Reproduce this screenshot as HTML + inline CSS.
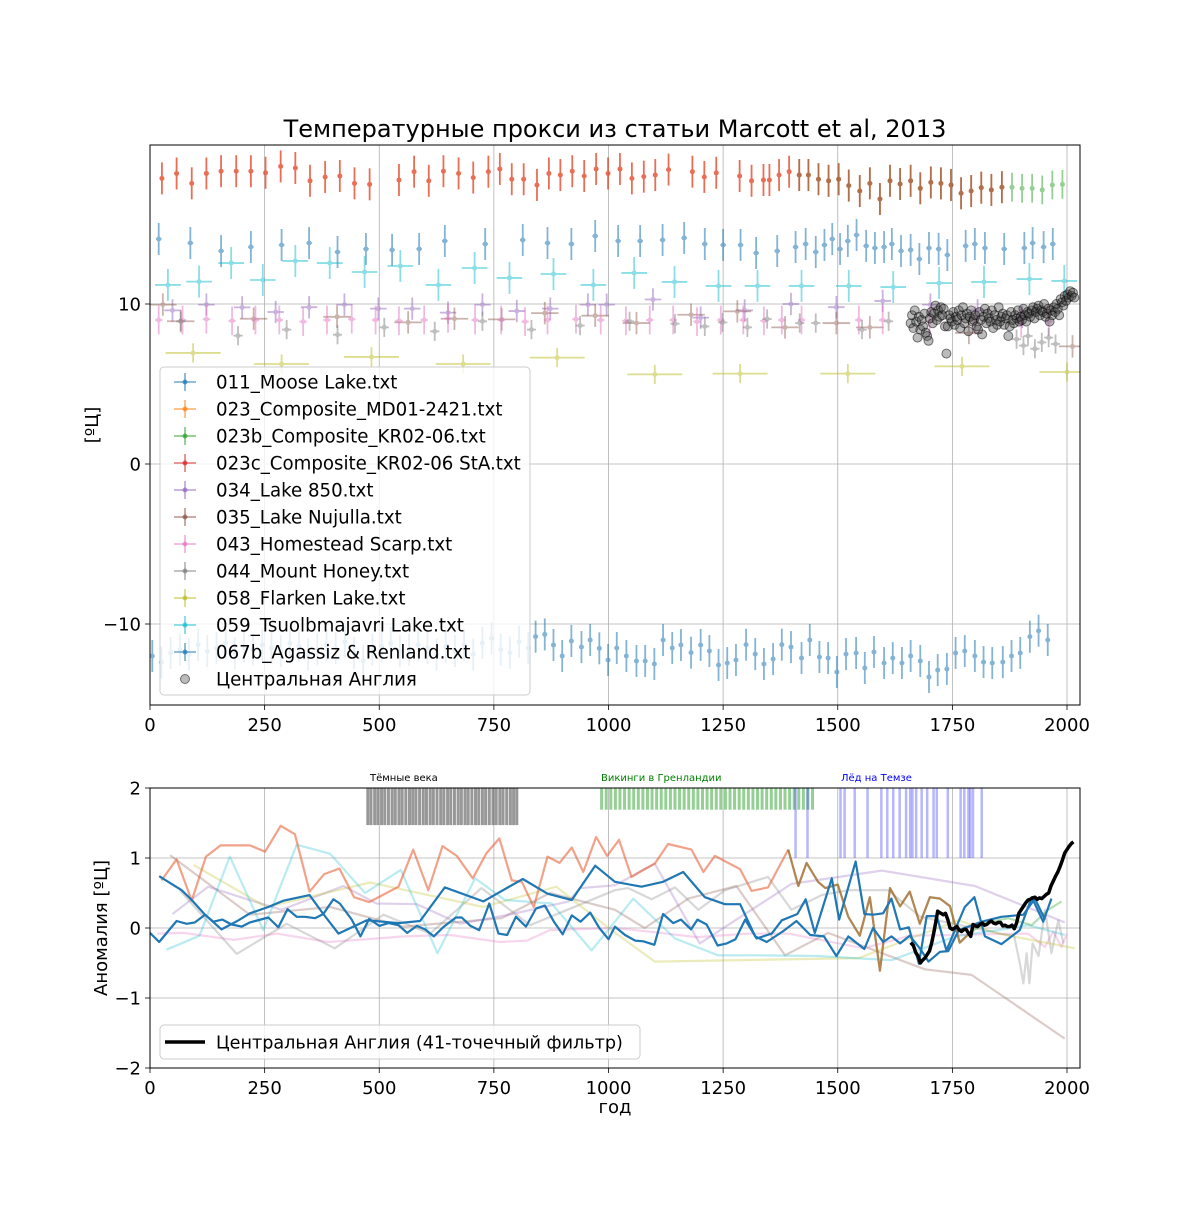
<!DOCTYPE html>
<html><head><meta charset="utf-8"><style>
html,body{margin:0;padding:0;background:#fff;}
svg text{font-family:"DejaVu Sans","Liberation Sans",sans-serif;}
</style></head><body>
<svg id="chart" width="1200" height="1200" viewBox="0 0 1200 1200" xmlns="http://www.w3.org/2000/svg">
<rect width="1200" height="1200" fill="#fff"/>
<text x="615" y="137" font-size="24" text-anchor="middle">Температурные прокси из статьи Marcott et al, 2013</text>
<g id="gtop"></g><g id="gbottom"></g>
</svg>
<script>
// ---------- TOP CHART DATA ----------
const xTicks=[0,250,500,750,1000,1250,1500,1750,2000];
const yTicksTop=[-10,0,10];
const yTicksBot=[-2,-1,0,1,2];
const redYears=[26,58,91,123,155,188,220,252,285,317,349,382,414,446,479,543,576,608,640,673,705,738,763,789,815,844,870,895,921,947,973,999,1025,1051,1077,1102,1131,1183,1209,1235,1286,1312,1338,1351,1372,1394];
const redVals=[17.85,18.16,17.54,18.16,18.3,18.3,18.3,18.2,18.6,18.5,17.7,17.94,18.0,17.54,17.48,17.75,18.27,17.7,18.3,18.16,17.9,18.27,18.44,17.8,17.8,17.44,18.16,18.06,18.3,18.0,18.44,18.16,18.44,17.85,17.96,18.06,18.4,18.27,17.94,18.2,18.0,17.7,17.75,17.75,18.06,18.27];
const brownYears=[1416,1436,1458,1480,1502,1524,1548,1570,1592,1614,1636,1659,1680,1703,1725,1747,1769,1791,1813,1835,1858];
const brownVals=[18.06,18.06,17.8,17.7,17.8,17.4,17.06,17.54,16.56,17.7,17.5,17.7,17.23,17.6,17.54,17.44,16.92,17.06,17.27,17.13,17.3];
const greenYears=[1880,1902,1924,1946,1968,1990];
const greenVals=[17.3,17.23,17.23,17.13,17.44,17.48];
const mooseYears=[19,88,155,220,287,347,409,471,528,587,643,731,813,867,919,971,1021,1069,1118,1165,1210,1250,1288,1322,1368,1408,1430,1452,1471,1488,1505,1522,1541,1562,1581,1601,1618,1638,1659,1678,1699,1720,1739,1779,1799,1821,1863,1907,1925,1949,1969];
const mooseVals=[14.06,13.81,13.31,13.56,13.69,13.81,13.25,13.44,13.38,13.44,13.94,13.75,14.0,13.81,13.75,14.25,13.94,13.94,14.0,14.13,13.75,13.69,13.69,13.19,13.31,13.56,13.75,13.25,13.69,14.06,13.44,13.94,14.31,13.63,13.5,13.56,13.75,13.31,13.38,12.81,13.5,13.44,13.06,13.63,13.75,13.5,13.44,13.5,13.81,13.56,13.75];
const tsuolYears=[39,107,177,246,317,392,468,546,629,708,784,880,967,1056,1144,1240,1325,1421,1524,1621,1721,1819,1918,1994];
const tsuolVals=[11.19,11.4,12.56,11.5,12.69,12.56,12.0,12.375,11.19,12.25,11.63,11.875,11.19,11.94,11.38,11.13,11.13,11.13,11.13,11.06,11.31,11.38,11.56,11.44];
const flarkenYears=[94,287,483,683,888,1101,1287,1522,1771,2000];
const flarkenVals=[6.94,6.25,6.69,6.25,6.65,5.6,5.65,5.65,6.1,5.75];
const lake850Years=[49,123,201,274,347,424,498,572,650,725,800,873,955,996,1097,1201,1297,1398,1497,1598,1702,1805,1902];
const lake850Vals=[9.6,9.96,9.79,9.5,9.8,9.96,9.71,9.71,9.46,9.96,9.56,9.71,9.96,9.96,10.28,9.15,9.6,10.0,9.8,10.19,9.96,9.6,9.2];
const nujullaYears=[28,67,226,408,563,664,767,861,971,1061,1180,1281,1385,1497,1570,1786,2012];
const nujullaVals=[9.96,8.92,9.08,9.2,8.85,9.08,9.04,9.43,9.27,8.81,9.33,9.54,8.54,8.81,8.54,8.19,7.35];
const homesteadYears=[19,71,123,179,230,282,334,386,440,492,543,598,650,709,766,818,867,929,983,1038,1090,1141,1193,1245,1294,1339,1378,1421,1546,1598,1700,1800,1900,1960];
const homesteadVals=[9.0,9.0,9.05,8.95,9.0,9.0,8.9,9.0,9.05,9.0,8.95,9.0,9.1,9.0,9.0,8.9,9.0,9.05,9.0,8.95,9.0,9.0,8.9,9.0,9.0,8.95,9.0,9.0,9.0,9.0,8.9,9.0,8.8,8.9];
const honeyYears=[67,192,298,409,511,621,725,832,938,1046,1145,1210,1249,1303,1346,1417,1452,1553,1611,1890,1905,1915,1930,1945,1960,1975];
const honeyVals=[8.92,8.02,8.4,8.08,8.54,8.29,8.92,8.4,8.65,8.92,8.77,8.6,8.85,8.54,9.06,8.81,8.81,8.4,8.92,7.8,7.4,8.0,7.2,7.6,7.9,7.5];
const agassizYears=[5,25,45,65,85,105,125,145,165,185,205,225,245,265,285,305,325,345,365,385,405,425,445,465,485,505,525,545,565,585,605,625,645,665,685,705,725,745,765,785,805,825,841,861,880,899,919,941,960,980,999,1018,1039,1061,1080,1100,1119,1139,1158,1180,1201,1220,1240,1259,1278,1300,1320,1339,1359,1378,1398,1421,1439,1460,1479,1498,1518,1540,1559,1579,1601,1620,1640,1659,1680,1699,1718,1738,1757,1777,1799,1818,1837,1860,1879,1898,1919,1938,1958];
const agassizVals=[-12.0,-12.4,-11.8,-11.6,-11.9,-11.3,-11.7,-11.5,-11.2,-11.8,-11.4,-11.6,-11.3,-11.5,-11.7,-11.2,-11.4,-11.9,-11.6,-11.3,-11.5,-11.1,-11.8,-12.3,-11.6,-11.4,-11.2,-11.7,-11.6,-11.3,-11.5,-11.9,-11.4,-11.7,-11.3,-11.9,-11.2,-10.9,-11.6,-11.8,-11.1,-11.5,-10.79,-10.65,-11.31,-12.0,-11.06,-11.44,-11.0,-11.52,-12.25,-11.5,-12.0,-12.31,-12.31,-12.5,-11.0,-11.5,-11.31,-11.79,-11.31,-11.69,-12.56,-12.44,-12.25,-11.29,-11.88,-12.5,-12.19,-11.29,-11.44,-12.13,-11.0,-12.06,-12.13,-13.0,-11.88,-11.81,-12.75,-11.75,-12.44,-12.13,-12.44,-12.0,-12.31,-13.31,-12.88,-12.81,-11.81,-11.69,-12.0,-12.38,-12.44,-12.38,-12.0,-11.81,-10.79,-10.42,-11.0];
const cetStart=1659, cetStep=3;
const cetVals=[8.8,9.3,8.5,9.6,8.9,7.9,9.2,8.4,9.0,8.6,9.4,8.2,8.0,7.7,
9.1,9.5,8.8,9.4,9.9,9.0,9.6,9.2,9.8,9.3,9.7,8.6,6.9,
8.6,9.3,9.1,8.9,9.5,8.7,9.2,9.0,9.6,8.5,9.3,9.8,8.8,9.1,9.4,
8.3,9.2,9.6,8.9,9.0,9.3,8.6,8.4,9.5,9.0,8.1,9.2,9.7,8.8,9.4,
9.1,8.9,9.6,8.5,9.3,9.0,8.7,9.8,8.9,9.2,9.4,8.7,9.1,9.3,8.0,
8.6,9.5,9.0,8.8,9.3,9.1,9.6,8.9,9.2,9.0,9.7,9.3,8.9,9.5,9.4,9.2,
9.6,9.8,9.1,9.5,9.7,9.9,9.3,9.6,9.5,10.0,9.2,9.4,9.7,8.9,9.6,9.3,
9.8,9.5,10.0,9.7,9.3,10.3,10.1,9.9,10.5,10.2,10.6,10.4,10.8,10.5,10.7,10.4];
const legendTop=["011_Moose Lake.txt","023_Composite_MD01-2421.txt","023b_Composite_KR02-06.txt","023c_Composite_KR02-06 StA.txt","034_Lake 850.txt","035_Lake Nujulla.txt","043_Homestead Scarp.txt","044_Mount Honey.txt","058_Flarken Lake.txt","059_Tsuolbmajavri Lake.txt","067b_Agassiz & Renland.txt","Центральная Англия"];
const legendColors=["#1f77b4","#ff7f0e","#2ca02c","#d62728","#9467bd","#8c564b","#e377c2","#7f7f7f","#bcbd22","#17becf","#1f77b4","#000"];

// ---------- BOTTOM CHART DATA ----------
const salmonYears=[25,58,91,122,154,218,251,285,316,348,380,413,445,478,542,574,607,638,669,704,734,762,789,811,837,867,893,920,945,973,997,1023,1050,1076,1101,1130,1181,1207,1232,1287,1312,1348,1392];
const salmonVals=[0.68,0.98,0.39,1.02,1.18,1.18,1.09,1.46,1.34,0.52,0.77,0.85,0.44,0.37,0.59,1.12,0.54,1.17,1.03,0.71,1.07,1.28,0.68,0.66,0.30,1.02,0.93,1.15,0.80,1.30,1.03,1.26,0.73,0.83,0.92,1.2,1.12,0.8,1.03,0.84,0.53,0.58,1.12];
const orangeYears=[1392,1414,1432,1457,1473,1500,1523,1548,1570,1592,1614,1636,1657,1679,1701,1723,1745,1766,1788];
const orangeVals=[1.12,0.6,0.93,0.66,0.57,0.62,0.16,-0.11,0.44,-0.61,0.57,0.31,0.52,0.06,0.44,0.42,0.31,-0.21,-0.07];
const greenAnYears=[1392,1414,1432,1457,1473,1500,1523,1548,1570,1592,1614,1636,1657,1679,1701,1723,1745,1766,1788,1821,1872,1923,1959,1988];
const greenAnVals=[1.12,0.6,0.93,0.66,0.57,0.62,0.16,-0.11,0.44,-0.61,0.57,0.31,0.52,0.06,0.44,0.42,0.31,-0.21,-0.07,0.07,0.14,0.04,0.26,0.38];
const blueAYears=[0,20,58,80,98,120,138,158,178,200,218,258,280,300,320,338,360,378,400,414,440,459,478,500,520,542,561,582,600,619,641,667,680,699,718,740,760,779,798,820,842,861,881,900,920,939,960,980,1000,1014,1036,1058,1076,1100,1119,1141,1158,1180,1194,1214,1238,1258,1277,1298,1323,1356,1378,1412,1430,1450,1487,1503,1539,1558,1577,1599,1617,1636,1655,1677,1694,1716,1737,1777,1798,1821,1857,1897,1923,1948,1966];
const blueAVals=[-0.07,-0.2,0.10,0.06,0.08,0.19,0.09,0.12,0.05,0.02,0.08,0.15,0.01,0.27,0.16,0.16,0.14,0.2,0.41,0.35,0.12,-0.12,0.13,0.03,0.07,0.04,-0.07,0.03,-0.02,-0.12,0.02,0.15,0.15,0.03,-0.03,0.35,-0.08,-0.1,0.16,0.02,0.28,0.32,0.09,-0.09,0.18,0.09,0.22,0,-0.16,0.02,-0.1,-0.18,-0.19,-0.24,0.2,0.07,0.12,-0.02,0.12,0.05,-0.25,-0.22,-0.16,0.12,-0.15,-0.08,0.11,0.2,0.41,-0.07,0.71,0.12,0.95,0.2,0.19,0.21,0.42,-0.02,0.01,-0.51,0.17,0.17,-0.32,0.3,0.44,-0.12,-0.23,-0.03,0.44,0.09,0.42];
const blueBYears=[20,69,91,120,156,193,218,258,291,348,378,411,473,542,589,643,727,813,867,920,971,1014,1072,1119,1163,1210,1254,1287,1320,1345,1380,1410,1440,1470,1497,1523,1558,1577,1599,1617,1636,1657,1680,1698,1723,1741,1764,1814,1857,1905,1930,1952];
const blueBVals=[0.74,0.54,0.4,0.19,-0.02,0.11,0.21,0.3,0.39,0.47,0.2,-0.08,0.11,0.07,0.1,0.58,0.38,0.7,0.49,0.4,0.89,0.66,0.59,0.66,0.8,0.44,0.34,0.34,-0.12,-0.2,-0.05,0.1,-0.1,-0.12,-0.4,-0.12,-0.3,0,-0.2,-0.12,-0.22,-0.11,-0.3,-0.48,-0.34,-0.33,-0.03,0.09,0.16,0.19,0.42,0.12];
const cyanAnYears=[36,108,174,247,320,393,469,547,627,709,774,876,963,1014,1054,1145,1239,1327,1457,1617,1679,1756,1850,1916,1995];
const cyanAnVals=[-0.31,-0.11,1.02,-0.03,1.19,1.06,0.5,0.83,-0.36,0.71,0.4,0.35,-0.32,0.09,0.42,-0.15,-0.39,-0.39,-0.4,-0.46,-0.31,-0.12,-0.03,0.04,-0.1];
const oliveAnYears=[95,254,480,727,886,1000,1101,1545,1763,1850,2017];
const oliveAnVals=[0.9,0.3,0.65,0.3,0.59,0.0,-0.48,-0.43,0.11,-0.08,-0.29];
const purpleAnYears=[49,127,207,287,422,494,582,676,790,913,938,1014,1101,1199,1399,1596,1799,1995];
const purpleAnVals=[0.2,0.59,0.42,0.26,0.6,0.35,0.34,0.06,0.2,0.38,0.57,0.61,0.92,-0.22,0.63,0.82,0.6,0.08];
const grayAnYears=[65,189,298,403,509,611,723,829,1014,1043,1094,1145,1196,1254,1348,1399,1465,1523,1610,1680,1885,1897,1905,1912,1918,1925,1938,1952,1966,1981,1992];
const grayAnVals=[0.54,-0.37,0.06,-0.29,0.19,-0.08,0.57,0.04,0.54,0.57,0.41,0.58,0.26,0.54,0.73,0.26,0.47,0.54,0.54,0.16,-0.12,-0.5,-0.79,-0.36,-0.79,-0.22,-0.4,0.26,-0.36,0.11,-0.22];
const brownAnYears=[44,218,393,553,767,872,1014,1079,1174,1279,1385,1479,1690,1792,1995];
const brownAnVals=[1.04,0.19,0.3,0.02,0.14,0.5,0.26,0,0.42,0.6,-0.39,-0.07,-0.59,-0.67,-1.58];
const pinkAnYears=[15,73,182,276,389,494,553,654,763,822,872,1014,1087,1192,1305,1392,1556,1657,1915,1952,1970,1988,2000];
const pinkAnVals=[-0.08,-0.07,-0.17,-0.08,-0.2,-0.15,-0.12,-0.1,-0.2,-0.18,-0.03,0,-0.05,-0.13,-0.08,-0.08,-0.29,-0.11,-0.08,-0.27,-0.05,-0.27,-0.08];
const cetFiltYears=[1659,1665,1670,1675,1680,1685,1690,1695,1700,1705,1710,1712,1718,1722,1725,1730,1735,1740,1745,1750,1755,1760,1765,1770,1775,1780,1785,1790,1795,1800,1805,1810,1815,1820,1825,1830,1835,1840,1845,1850,1855,1860,1865,1870,1875,1880,1885,1890,1895,1900,1905,1910,1915,1920,1925,1930,1935,1940,1945,1950,1955,1960,1965,1970,1975,1980,1985,1990,1995,2000,2005,2010,2014];
const cetFiltVals=[-0.21,-0.25,-0.35,-0.4,-0.5,-0.46,-0.43,-0.38,-0.33,-0.21,-0.05,0.02,0.24,0.22,0.21,0.19,0.21,0.12,0,-0.02,0.0,0.02,-0.03,-0.05,-0.02,-0.02,-0.07,-0.12,0.05,0.03,0.02,0.05,0.07,0.04,0.05,0.08,0.1,0.07,0.06,0.08,0.08,0.03,0.04,0.02,0.02,0.04,-0.01,0.07,0.21,0.26,0.31,0.36,0.4,0.41,0.43,0.44,0.41,0.43,0.42,0.45,0.48,0.5,0.6,0.67,0.74,0.8,0.88,0.97,1.07,1.12,1.17,1.21,1.23];
const darkAgeYears=[475,482,490,497,505,512,520,528,535,543,550,558,566,573,580,588,596,603,611,618,626,634,641,649,656,664,672,679,687,694,702,710,717,725,732,740,748,755,763,770,778,786,793,800];
const vikingYears=[985,995,1005,1015,1025,1035,1045,1055,1065,1075,1085,1095,1105,1115,1125,1135,1145,1155,1165,1175,1185,1195,1205,1215,1225,1235,1245,1255,1265,1275,1285,1295,1305,1315,1325,1335,1345,1355,1365,1375,1385,1395,1405,1415,1425,1435,1445];
const thamesYears=[1408,1434,1506,1515,1537,1565,1595,1608,1621,1635,1649,1658,1663,1671,1683,1695,1709,1716,1740,1768,1776,1785,1789,1795,1814];

// ---------- DRAW ----------
const NS="http://www.w3.org/2000/svg";
const gTop=document.getElementById('gtop'), gBot=document.getElementById('gbottom');
function mk(tag,attrs,parent){const e=document.createElementNS(NS,tag);for(const k in attrs)e.setAttribute(k,attrs[k]);parent.appendChild(e);return e;}
const X=yr=>150+yr*0.4585;
const Y1=v=>464-v*16;
const Y2=a=>928-a*70;

const defs=mk('defs',{},gTop);
const c1=mk('clipPath',{id:'c1'},defs);mk('rect',{x:150,y:145,width:930,height:560},c1);
const c2=mk('clipPath',{id:'c2'},defs);mk('rect',{x:150,y:788,width:930,height:280},c2);

function axes(g,y0,y1,yT,Yf){
  xTicks.forEach(t=>{const x=X(t);
    const gl=mk('line',{x1:x,x2:x,y1:y0,y2:y1,stroke:'#b0b0b0','stroke-width':0.8},g);
    
    mk('line',{x1:x,x2:x,y1:y1,y2:y1+5,stroke:'#000','stroke-width':0.8},g);
    const tx=mk('text',{x:x,y:y1+26,'font-size':18,'text-anchor':'middle'},g);tx.textContent=t;
    });
  yT.forEach(t=>{const y=Yf(t);
    const gl=mk('line',{x1:150,x2:1080,y1:y,y2:y,stroke:'#b0b0b0','stroke-width':0.8},g);
    
    mk('line',{x1:145,x2:150,y1:y,y2:y,stroke:'#000','stroke-width':0.8},g);
    const tx=mk('text',{x:141,y:y+6.5,'font-size':18,'text-anchor':'end'},g);tx.textContent=String(t).replace('-','\u2212');
    });
}
axes(gTop,145,705,yTicksTop,Y1);
axes(gBot,788,1068,yTicksBot,Y2);

const pt=mk('g',{'clip-path':'url(#c1)'},gTop);

function eb(name,color,yrs,vals,ye,xe,op){
  const g=mk('g',{opacity:op},pt);
  
  yrs.forEach((yr,i)=>{const x=X(yr),y=Y1(vals[i]);
    mk('line',{x1:x,x2:x,y1:Y1(vals[i]+ye),y2:Y1(vals[i]-ye),stroke:color,'stroke-width':1.8},g);
    if(xe>0)mk('line',{x1:X(yr-xe),x2:X(yr+xe),y1:y,y2:y,stroke:color,'stroke-width':1.8},g);
    const d=mk('circle',{cx:x,cy:y,r:2.5,fill:color},g);
    });
}
eb('series-023c','#e44a2a',redYears,redVals,1.0,4,0.8);
eb('series-023c-late','#d62728',brownYears,brownVals,1.0,4,0.5);
eb('series-023-late','#8c5a1a',brownYears,brownVals,1.0,4,0.6);
eb('series-023b','#2ca02c',greenYears,greenVals,0.9,4,0.5);
eb('series-011','#1f77b4',mooseYears,mooseVals,1.0,6,0.55);
eb('series-059','#17becf',tsuolYears,tsuolVals,1.0,28,0.5);
eb('series-058','#bcbd22',flarkenYears,flarkenVals,0.6,60,0.5);
eb('series-034','#9467bd',lake850Years,lake850Vals,0.7,18,0.5);
eb('series-035','#8c564b',nujullaYears,nujullaVals,0.7,30,0.45);
eb('series-043','#e377c2',homesteadYears,homesteadVals,0.9,8,0.5);
eb('series-044','#7f7f7f',honeyYears,honeyVals,0.6,10,0.5);
eb('series-067b','#1f77b4',agassizYears,agassizVals,1.0,3,0.55);
const cg=mk('g',{},pt);

cetVals.forEach((v,i)=>{const yr=cetStart+i*cetStep;
  const c=mk('circle',{cx:X(yr),cy:Y1(v),r:4.5,fill:'rgba(60,60,60,0.35)',stroke:'rgba(0,0,0,0.5)','stroke-width':1},cg);
  });

const lg=mk('g',{},gTop);

mk('rect',{x:160,y:367,width:370,height:328,rx:4,fill:'rgba(255,255,255,0.8)',stroke:'#ccc'},lg);
legendTop.forEach((s,i)=>{const y=382+i*27,c=legendColors[i];
  const e=mk('g',{},lg);
  if(i<11){mk('line',{x1:174,x2:196,y1:y,y2:y,stroke:c,'stroke-width':1.8,opacity:0.55},e);
    mk('line',{x1:185,x2:185,y1:y-9,y2:y+9,stroke:c,'stroke-width':1.8,opacity:0.55},e);
    mk('circle',{cx:185,cy:y,r:2.5,fill:c,opacity:0.7},e);}
  else mk('circle',{cx:185,cy:y,r:4.5,fill:'rgba(60,60,60,0.35)',stroke:'rgba(0,0,0,0.5)'},e);
  const t=mk('text',{x:216,y:y+6.5,'font-size':18.2},e);t.textContent=s;});

mk('rect',{x:150,y:145,width:930,height:560,fill:'none',stroke:'#000','stroke-width':1},gTop);
const yl1=mk('text',{x:0,y:0,'font-size':18,'text-anchor':'middle',transform:'translate(98,425) rotate(-90)'},gTop);
yl1.textContent='[ºЦ]';

const pb=mk('g',{'clip-path':'url(#c2)'},gBot);

function events(name,yrs,top_a,color,op,w){const g=mk('g',{},pb);
  
  yrs.forEach(yr=>{const l=mk('line',{x1:X(yr),x2:X(yr),y1:Y2(2),y2:Y2(top_a),stroke:color,'stroke-width':w,opacity:op},g);
    });}
events('dark-ages-markers',darkAgeYears,1.47,'#555',0.6,3);
events('vikings-markers',vikingYears,1.69,'#2ca02c',0.5,3);
events('thames-ice-markers',thamesYears,1.0,'#3333ff',0.35,2.5);
function line(name,yrs,vals,color,w,op){const p=yrs.map((yr,i)=>X(yr)+','+Y2(vals[i])).join(' ');
  const l=mk('polyline',{points:p,fill:'none',stroke:color,'stroke-width':w,opacity:op,'stroke-linejoin':'round'},pb);
  }
line('anomaly-043',pinkAnYears,pinkAnVals,'#e377c2',2.2,0.3);
line('anomaly-035',brownAnYears,brownAnVals,'#8c564b',2.2,0.3);
line('anomaly-044',grayAnYears,grayAnVals,'#7f7f7f',2.2,0.3);
line('anomaly-034',purpleAnYears,purpleAnVals,'#9467bd',2.2,0.3);
line('anomaly-058',oliveAnYears,oliveAnVals,'#bcbd22',2.2,0.3);
line('anomaly-059',cyanAnYears,cyanAnVals,'#17becf',2.2,0.3);
line('anomaly-023c',salmonYears,salmonVals,'#e8643a',2.2,0.6);
line('anomaly-023b',greenAnYears,greenAnVals,'#2ca02c',2.2,0.35);
line('anomaly-023',orangeYears,orangeVals,'#b0602a',2.2,0.7);
line('anomaly-011',blueBYears,blueBVals,'#1f77b4',2.2,1);
line('anomaly-067b',blueAYears,blueAVals,'#1f77b4',2.2,1);
line('central-england-filtered',cetFiltYears,cetFiltVals,'#000',3.5,1);

const ann=[['Тёмные века',370,'#000','dark-ages-label'],['Викинги в Гренландии',601,'#008000','vikings-label'],['Лёд на Темзе',841,'#0000ff','thames-label']];
ann.forEach(a=>{const t=mk('text',{x:a[1],y:781,'font-size':10,fill:a[2]},gBot);t.textContent=a[0];
  });

const lb=mk('g',{},gBot);
mk('rect',{x:160,y:1025,width:480,height:34,rx:4,fill:'rgba(255,255,255,0.8)',stroke:'#ccc'},lb);
mk('line',{x1:165,x2:205,y1:1042,y2:1042,stroke:'#000','stroke-width':3.5},lb);
const lt=mk('text',{x:216,y:1048.5,'font-size':17.6},lb);lt.textContent='Центральная Англия (41-точечный фильтр)';

mk('rect',{x:150,y:788,width:930,height:280,fill:'none',stroke:'#000','stroke-width':1},gBot);
const yl2=mk('text',{x:0,y:0,'font-size':18,'text-anchor':'middle',transform:'translate(107,928) rotate(-90)'},gBot);
yl2.textContent='Аномалия [ºЦ]';
const xl=mk('text',{x:615,y:1113,'font-size':18,'text-anchor':'middle'},gBot);
xl.textContent='год';
</script>
</body></html>
